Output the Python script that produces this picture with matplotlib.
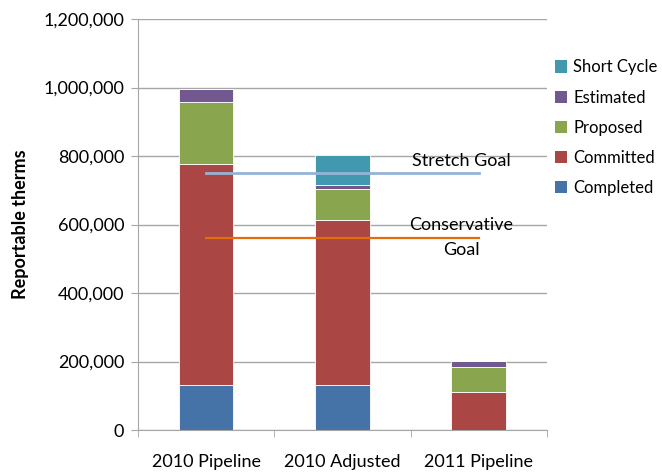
import matplotlib
matplotlib.use("Agg")
import matplotlib.pyplot as plt
from matplotlib.ticker import FuncFormatter, FixedLocator
from matplotlib.patches import Patch

plt.rcParams['font.family'] = ['Lato', 'DejaVu Sans']

categories = ["2010 Pipeline", "2010 Adjusted", "2011 Pipeline"]
completed = [131000, 131000, 0]
committed = [646000, 483000, 110000]
proposed = [180000, 91000, 75000]
estimated = [39000, 9000, 16000]
short_cycle = [0, 89000, 0]

stretch_goal = 750000
conservative_goal = 562000

series = [("Completed", completed, "#4572A7"),
          ("Committed", committed, "#AA4643"),
          ("Proposed", proposed, "#89A54E"),
          ("Estimated", estimated, "#71588F"),
          ("Short Cycle", short_cycle, "#4198AF")]

FS = 13

fig = plt.figure(figsize=(6.62, 4.75), dpi=100)
ax = fig.add_axes([0.2085, 0.0947, 0.6175, 0.8653])

x = list(range(len(categories)))
bottom = [0] * len(categories)
handles = []
for name, vals, col in series:
    ax.bar(x, vals, width=0.4, bottom=bottom, color=col, edgecolor="white", linewidth=0.6, zorder=3)
    bottom = [b + v for b, v in zip(bottom, vals)]
    handles.append(Patch(facecolor=col, edgecolor='none', label=name))

ax.plot([0, 2], [stretch_goal, stretch_goal], color="#95B3D7", lw=2, zorder=4)
ax.plot([0, 2], [conservative_goal, conservative_goal], color="#E46C0A", lw=1.6, zorder=4)
ax.text(1.87, stretch_goal + 12000, "Stretch Goal", ha="center", va="bottom", fontsize=FS, color="black", zorder=5)
ax.text(1.87, conservative_goal, "Conservative\nGoal", ha="center", va="center", fontsize=FS,
        color="black", linespacing=1.65, zorder=5)

ax.set_xlim(-0.5, 2.5)
ax.set_ylim(0, 1200000)
ax.set_yticks(range(0, 1200001, 200000))
ax.yaxis.set_major_formatter(FuncFormatter(lambda v, p: f"{int(v):,}"))
ax.grid(axis="y", color="#A6A6A6", lw=1, zorder=0)
ax.set_xticks(x)
ax.set_xticklabels(categories)
ax.xaxis.set_minor_locator(FixedLocator([-0.5, 0.5, 1.5, 2.5]))
ax.tick_params(axis="x", which="major", length=0, pad=17, labelsize=FS)
ax.tick_params(axis="x", which="minor", length=5, color="#A6A6A6", direction="out")
ax.tick_params(axis="y", length=5, color="#A6A6A6", labelsize=FS, pad=5)
for s in ["top", "right"]:
    ax.spines[s].set_visible(False)
for s in ["left", "bottom"]:
    ax.spines[s].set_color("#A6A6A6")

ax.set_ylabel("Reportable therms", fontsize=FS, fontweight="bold", labelpad=10)

fig.legend(handles=handles[::-1], loc="upper left", bbox_to_anchor=(0.838, 0.875), frameon=False,
           fontsize=12, handlelength=0.75, handleheight=0.75, handletextpad=0.35, labelspacing=0.85,
           borderaxespad=0, borderpad=0)

fig.savefig("out.png", dpi=100)
